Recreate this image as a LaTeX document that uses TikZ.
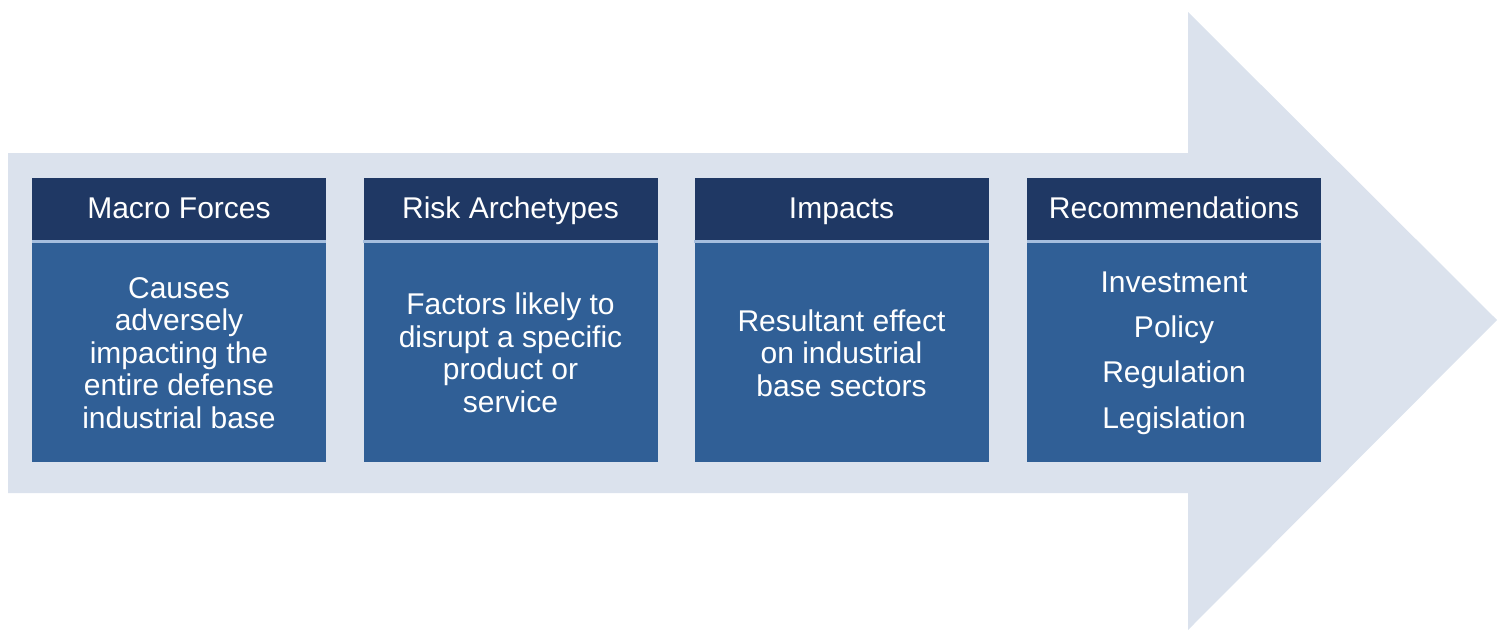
\documentclass[tikz,border=0pt]{standalone}
\usepackage{fontspec}
\setmainfont{Liberation Sans}
\usetikzlibrary{positioning}

\definecolor{arrowfill}{RGB}{219,226,237}
\definecolor{headblue}{RGB}{31,56,100}
\definecolor{bodyblue}{RGB}{48,95,150}
\definecolor{rulecol}{RGB}{165,190,222}

\tikzset{
  headbox/.style={fill=headblue, text=white, minimum width=294pt,
    minimum height=62pt, inner sep=0pt, text height=22pt, text depth=3pt,
    font=\fontsize{30}{32}\selectfont},
  bodybox/.style={fill=bodyblue, text=white, minimum width=294pt,
    minimum height=219pt, inner sep=0pt, align=center,
    font=\fontsize{30}{32.5}\selectfont},
}

\begin{document}
\begin{tikzpicture}[x=1pt,y=-1pt]

\useasboundingbox (0,0) rectangle (1505,637);

% big arrow behind the boxes
\fill [arrowfill] (8,153) -- (1188,153) -- (1188,12) -- (1497,320)
  -- (1188,630) -- (1188,493) -- (8,493) -- cycle;

% headers
\node [headbox] (mfhead) at (179,209)    {Macro Forces};
\node [headbox] (rahead) at (510.5,209)  {Risk Archetypes};
\node [headbox] (imhead) at (841.5,209)  {Impacts};
\node [headbox] (rchead) at (1174,209)   {Recommendations};

% bodies
\node [bodybox, below=3pt of mfhead] (mfbody)
  {Causes\\adversely\\impacting the\\entire defense\\industrial base};
\node [bodybox, below=3pt of rahead] (rabody)
  {Factors likely to\\disrupt a specific\\product or\\service};
\node [bodybox, below=3pt of imhead] (imbody)
  {Resultant effect\\on industrial\\base sectors};
\node [bodybox, below=3pt of rchead, font=\fontsize{30}{45.3}\selectfont] (rcbody)
  {Investment\\Policy\\Regulation\\Legislation};

% thin light rule between header and body
\foreach \i in {mf,ra,im,rc}
    \fill [rulecol] (\i head.south west) rectangle (\i body.north east);

\end{tikzpicture}
\end{document}
